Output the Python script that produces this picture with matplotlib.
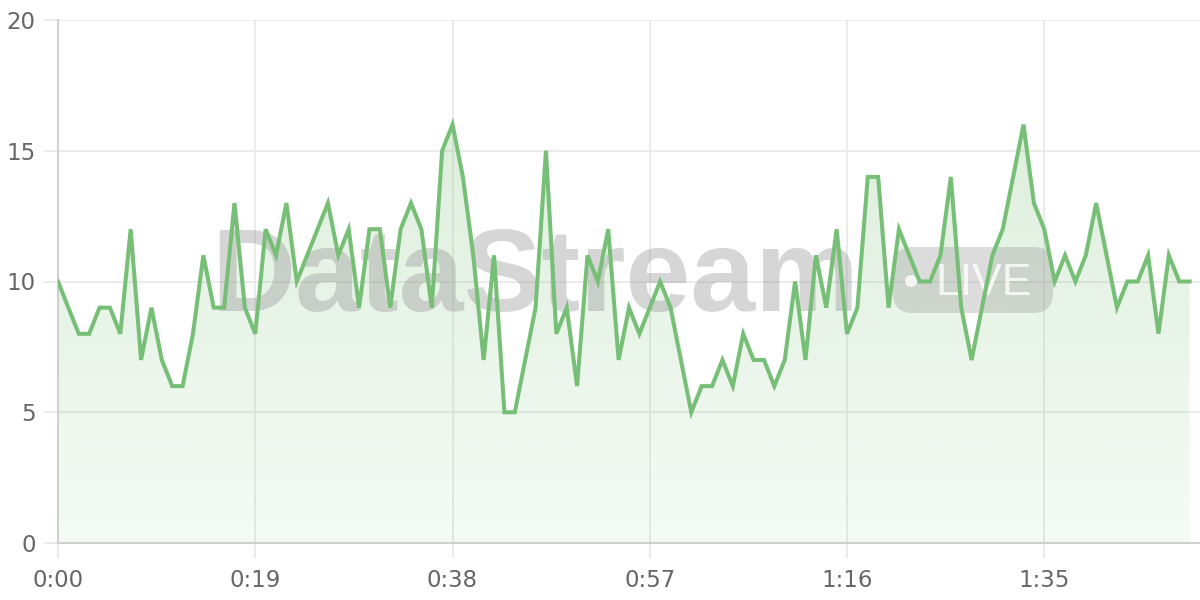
import numpy as np
import matplotlib
matplotlib.use("Agg")
import matplotlib.pyplot as plt
from matplotlib.patches import FancyBboxPatch, Circle
from matplotlib.transforms import IdentityTransform

# values per second (0:00 .. 1:49)
values = [10, 9, 8, 8, 9, 9, 8, 12, 7, 9,
          7, 6, 6, 8, 11, 9, 9, 13, 9, 8,
          12, 11, 13, 10, 11, 12, 13, 11, 12, 9,
          12, 12, 9, 12, 13, 12, 9, 15, 16, 14,
          11, 7, 11, 5, 5, 7, 9, 15, 8, 9,
          6, 11, 10, 12, 7, 9, 8, 9, 10, 9,
          7, 5, 6, 6, 7, 6, 8, 7, 7, 6,
          7, 10, 7, 11, 9, 12, 8, 9, 14, 14,
          9, 12, 11, 10, 10, 11, 14, 9, 7, 9,
          11, 12, 14, 16, 13, 12, 10, 11, 10, 11,
          13, 11, 9, 10, 10, 11, 8, 11, 10, 10]
x_ticks = [0, 19, 38, 57, 76, 95]
y_ticks = [0, 5, 10, 15, 20]

seconds = np.arange(len(values))
y = np.array(values, dtype=float)
tick_labels = ['%d:%02d' % (s // 60, s % 60) for s in x_ticks]

green = '#77bf77'
H = 600  # figure height in px

fig = plt.figure(figsize=(12, 6), dpi=100)
ax = fig.add_axes([58 / 1200, 57 / 600, 1142 / 1200, 523 / 600])

# gradient fill under the line
poly = ax.fill_between(seconds, y, 0, color='none', lw=0)
rgb = matplotlib.colors.to_rgb(green)
img = np.zeros((256, 1, 4))
img[..., 0], img[..., 1], img[..., 2] = rgb
img[:, 0, 3] = np.linspace(0.25, 0.07, 256)
im = ax.imshow(img, extent=[0, seconds[-1], 0, max(values)], aspect='auto',
               origin='upper', zorder=1)
im.set_clip_path(poly.get_paths()[0], transform=ax.transData)

ax.plot(seconds, y, color=green, lw=2.9, zorder=3, solid_joinstyle='miter')

# watermark
ax.text(211, H - 311, 'DataStream', transform=IdentityTransform(),
        fontsize=84, fontweight='bold', family='Liberation Sans',
        color='#9e9e9e', alpha=0.42, va='baseline', ha='left', zorder=2)
badge = FancyBboxPatch((893, H - 313), 160, 66, boxstyle='round,pad=0,rounding_size=20',
                       transform=IdentityTransform(), facecolor='#9e9e9e', alpha=0.36,
                       edgecolor='none', zorder=2)
ax.add_patch(badge)
ax.add_patch(Circle((911, H - 281), 6, transform=IdentityTransform(),
                    facecolor='white', alpha=0.8, edgecolor='none', zorder=2))
ax.text(935, H - 295, 'LIVE', transform=IdentityTransform(), fontsize=32,
        family='Liberation Sans', color='white', alpha=0.8,
        va='baseline', ha='left', zorder=2)

ax.set_xlim(0, 110)
ax.set_ylim(0, 20)
ax.set_xticks(x_ticks)
ax.set_xticklabels(tick_labels)
ax.set_yticks(y_ticks)

ax.set_axisbelow(True)
ax.grid(True, color='#e8e8e8', lw=1.2)
for s in ['top', 'right']:
    ax.spines[s].set_visible(False)
ax.spines['left'].set_color('#d0d0d0')
ax.spines['bottom'].set_color('#d0d0d0')
ax.spines['left'].set_linewidth(1.5)
ax.spines['bottom'].set_linewidth(1.5)
ax.tick_params(axis='both', length=11, width=1.2, color='#e8e8e8',
               labelcolor='#666666', labelsize=16.5)
ax.tick_params(axis='y', pad=5)
ax.tick_params(axis='x', pad=8)

fig.savefig('out.png', dpi=100)
